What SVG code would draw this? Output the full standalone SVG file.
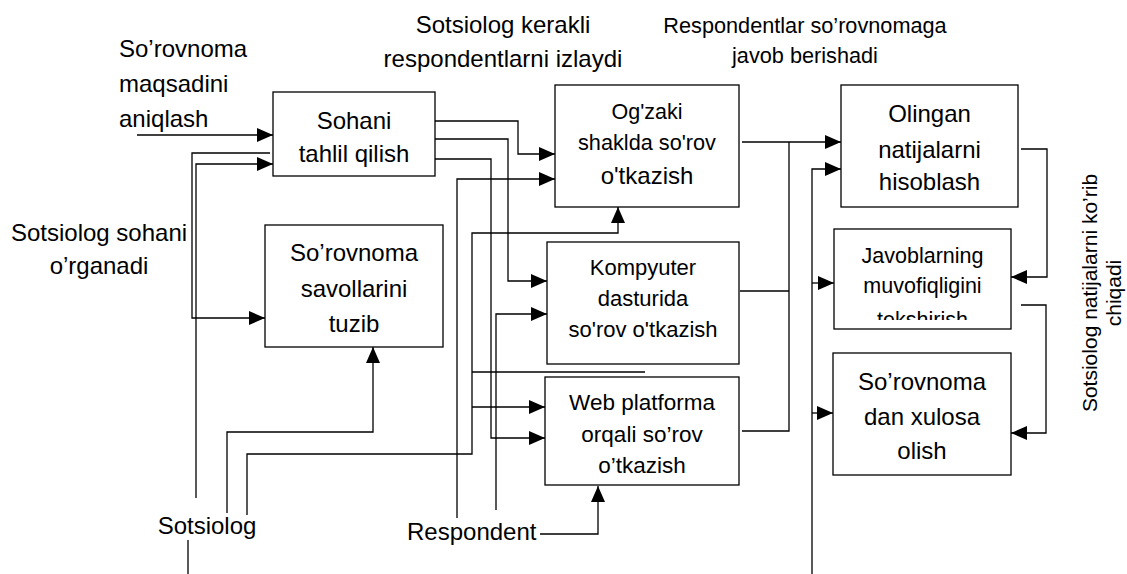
<svg xmlns="http://www.w3.org/2000/svg" width="1127" height="574" viewBox="0 0 1127 574">
<style>
text{font-family:"Liberation Sans",Arial,sans-serif;fill:#000}
.box{fill:#fff;stroke:#000;stroke-width:1.3}
.c{fill:none;stroke:#000;stroke-width:1.3}
.m{text-anchor:middle}
.s24{font-size:24px}
.s22{font-size:22px}
</style>
<defs>
<marker id="ah" markerUnits="userSpaceOnUse" markerWidth="16" markerHeight="14" refX="16" refY="7" orient="auto">
<path d="M0,0 L16,7 L0,14 z" fill="#000"/>
</marker>
<clipPath id="clipJ"><rect x="834" y="229" width="177" height="91"/></clipPath>
</defs>
<rect width="1127" height="574" fill="#fff"/>

<g id="labels">
<text class="s24" x="119" y="57">So’rovnoma</text>
<text class="s24" x="119" y="92">maqsadini</text>
<text class="s24" x="119" y="127">aniqlash</text>
<text class="s24 m" x="503" y="33">Sotsiolog kerakli</text>
<text class="s24 m" x="503" y="67">respondentlarni izlaydi</text>
<text class="m" style="font-size:21.7px" x="805" y="33">Respondentlar so’rovnomaga</text>
<text class="m" style="font-size:21.7px" x="805" y="63">javob berishadi</text>
<text class="s24 m" x="99" y="241">Sotsiolog sohani</text>
<text class="s24 m" x="99" y="274">o’rganadi</text>
<text class="s24 m" x="207" y="534">Sotsiolog</text>
<text class="s24" x="407" y="540">Respondent</text>
<g transform="translate(1097,293) rotate(-90)">
<text class="m" style="font-size:21px" x="0" y="0">Sotsiolog natijalarni ko’rib</text>
<text class="m" style="font-size:21px" x="0" y="24">chiqadi</text>
</g>
</g>

<g id="connectors">
<path class="c" d="M137,135 H273" marker-end="url(#ah)"/>
<path class="c" d="M270,153 H192 V318 H265" marker-end="url(#ah)"/>
<path class="c" d="M196,498 V164 H273" marker-end="url(#ah)"/>
<path class="c" d="M188,540 V574"/>
<path class="c" d="M227,513 V432 H373 V347" marker-end="url(#ah)"/>
<path class="c" d="M247,515 V454 H472 V233 H618 V207" marker-end="url(#ah)"/>
<path class="c" d="M472,372 H645"/>
<path d="M644,348 L651.5,360 L636.5,360 z" fill="#000"/>
<path class="c" d="M472,407 H545" marker-end="url(#ah)"/>
<path class="c" d="M435,121 H518 V154 H555" marker-end="url(#ah)"/>
<path class="c" d="M435,139 H508 V281 H547" marker-end="url(#ah)"/>
<path class="c" d="M435,159 H491 V438 H545" marker-end="url(#ah)"/>
<path class="c" d="M457,518 V179 H555" marker-end="url(#ah)"/>
<path class="c" d="M496,510 V314 H547" marker-end="url(#ah)"/>
<path class="c" d="M540,534 H598 V486" marker-end="url(#ah)"/>
<path class="c" d="M742,142 H841" marker-end="url(#ah)"/>
<path class="c" d="M740,291 H789"/>
<path class="c" d="M742,431 H789 V142"/>
<path class="c" d="M812,574 V169 H841" marker-end="url(#ah)"/>
<path class="c" d="M812,283 H834" marker-end="url(#ah)"/>
<path class="c" d="M812,413 H833" marker-end="url(#ah)"/>
<path class="c" d="M1021,149 H1047 V277 H1011" marker-end="url(#ah)"/>
<path class="c" d="M1021,305 H1046 V433 H1011" marker-end="url(#ah)"/>
</g>

<g id="node-sohani">
<rect class="box" x="273" y="92" width="162" height="84"/>
<text class="s24 m" x="354" y="129">Sohani</text>
<text class="s24 m" x="354" y="162">tahlil qilish</text>
</g>

<g id="node-savollar">
<rect class="box" x="265" y="225" width="178" height="122"/>
<text class="s24 m" x="354" y="261">So’rovnoma</text>
<text class="s24 m" x="354" y="297">savollarini</text>
<text class="s24 m" x="354" y="332">tuzib</text>
</g>

<g id="node-ogzaki">
<rect class="box" x="555" y="85" width="184" height="122"/>
<text class="m" style="font-size:21.5px" x="647" y="119">Og'zaki</text>
<text class="m" style="font-size:21.7px" x="647" y="150">shaklda so'rov</text>
<text class="s24 m" x="647" y="184">o'tkazish</text>
</g>

<g id="node-kompyuter">
<rect class="box" x="547" y="242" width="192" height="122"/>
<text class="s22 m" x="643" y="275">Kompyuter</text>
<text class="s22 m" x="643" y="306">dasturida</text>
<text class="s22 m" x="643" y="337">so'rov o'tkazish</text>
</g>

<g id="node-web">
<rect class="box" x="545" y="377" width="194" height="108"/>
<text class="m" style="font-size:22.5px" x="642" y="410">Web platforma</text>
<text class="m" style="font-size:22.5px" x="642" y="442">orqali so’rov</text>
<text class="m" style="font-size:22.5px" x="642" y="473">o’tkazish</text>
</g>

<g id="node-olingan">
<rect class="box" x="841" y="85" width="177" height="122"/>
<text class="s24 m" x="929.5" y="122">Olingan</text>
<text class="s24 m" x="929.5" y="158">natijalarni</text>
<text class="s24 m" x="929.5" y="190">hisoblash</text>
</g>

<g id="node-javoblar">
<rect class="box" x="834" y="229" width="177" height="100"/>
<g clip-path="url(#clipJ)">
<text class="m" style="font-size:21.5px" x="922.5" y="263">Javoblarning</text>
<text class="m" style="font-size:21.5px" x="922.5" y="293">muvofiqligini</text>
<text class="m" style="font-size:21.5px" x="922.5" y="327">tekshirish</text>
</g>
</g>

<g id="node-xulosa">
<rect class="box" x="833" y="353" width="178" height="122"/>
<text class="s24 m" x="922" y="390">So’rovnoma</text>
<text class="s24 m" x="922" y="425">dan xulosa</text>
<text class="s24 m" x="922" y="459">olish</text>
</g>
</svg>
